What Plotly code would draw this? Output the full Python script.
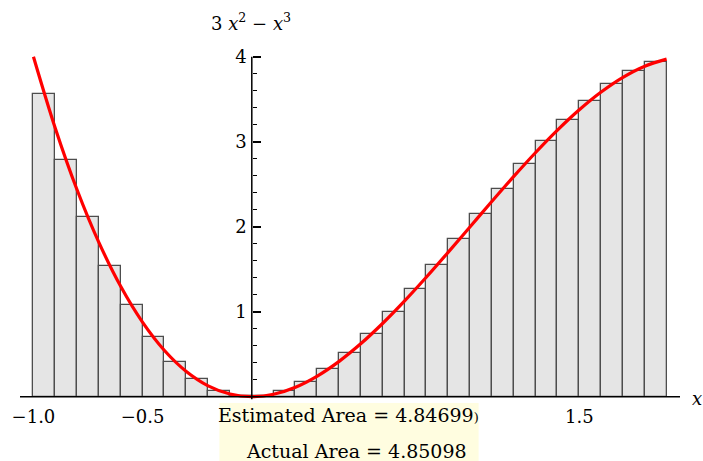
import plotly.graph_objects as go

# Riemann (midpoint) bars
bar_mid = [-0.95, -0.85, -0.75, -0.65, -0.55, -0.45, -0.35, -0.25, -0.15, -0.05,
           0.05, 0.15, 0.25, 0.35, 0.45, 0.55, 0.65, 0.75, 0.85, 0.95,
           1.05, 1.15, 1.25, 1.35, 1.45, 1.55, 1.65, 1.75, 1.85]
bar_height = [3.565, 2.782, 2.109, 1.542, 1.074, 0.699, 0.410, 0.203, 0.071, 0.008,
              0.007, 0.064, 0.172, 0.325, 0.516, 0.741, 0.993, 1.266, 1.553, 1.850,
              2.150, 2.447, 2.734, 3.007, 3.259, 3.484, 3.675, 3.828, 3.936]
bar_width = 0.1

# Curve 3x^2 - x^3 samples
curve_x = [-1.0, -0.9, -0.8, -0.7, -0.6, -0.5, -0.4, -0.3, -0.2, -0.1, 0.0,
           0.1, 0.2, 0.3, 0.4, 0.5, 0.6, 0.7, 0.8, 0.9, 1.0,
           1.1, 1.2, 1.3, 1.4, 1.5, 1.6, 1.7, 1.8, 1.9]
curve_y = [4.0, 3.159, 2.432, 1.813, 1.296, 0.875, 0.544, 0.297, 0.128, 0.031, 0.0,
           0.029, 0.112, 0.243, 0.416, 0.625, 0.864, 1.127, 1.408, 1.701, 2.0,
           2.299, 2.592, 2.873, 3.136, 3.375, 3.584, 3.757, 3.888, 3.971]

x_tickvals = [-1.0, -0.5, 1.5]
x_ticktext = ["\u22121.0", "\u22120.5", "1.5"]
y_tickvals = [1, 2, 3, 4]
y_ticktext = ["1", "2", "3", "4"]

estimated_area = "4.84699"
actual_area = "4.85098"

W, H = 703, 461
L, R, T, B = 18, 680, 52, 400     # plot area in pixels
x0_px, x_scale = 250.5, 219.0     # pixel of x=0, pixels per unit
y0_px, y_scale = 396.7, 85.0

xmin = (L - x0_px) / x_scale
xmax = (R - x0_px) / x_scale
ymin = (y0_px - B) / y_scale
ymax = (y0_px - T) / y_scale

def px(xp):
    return (xp - L) / (R - L)

def py(yp):
    return (B - yp) / (B - T)

FONT = "DejaVu Serif"

fig = go.Figure()
fig.add_trace(go.Bar(
    x=bar_mid, y=bar_height, width=bar_width,
    marker=dict(color="#e5e5e5", line=dict(color="#4d4d4d", width=1.3)),
    hoverinfo="skip", showlegend=False))
fig.add_trace(go.Scatter(
    x=curve_x, y=curve_y, mode="lines", line=dict(color="#ff0000", width=3.2, shape="spline"),
    hoverinfo="skip", showlegend=False))

fig.update_layout(
    width=W, height=H,
    margin=dict(l=L, r=W - R, t=T, b=H - B, pad=0),
    paper_bgcolor="white", plot_bgcolor="white",
    font=dict(family=FONT, size=18, color="black"),
    xaxis=dict(range=[xmin, xmax], showgrid=False, zeroline=False, showline=False,
               anchor="free", position=(0 - ymin) / (ymax - ymin),
               tickvals=x_tickvals, ticktext=x_ticktext, ticks="",
               ticklabelstandoff=7, tickfont=dict(family=FONT, size=18)),
    yaxis=dict(range=[ymin, ymax], showgrid=False, zeroline=False, showline=False,
               anchor="free", position=(0 - xmin) / (xmax - xmin),
               tickvals=y_tickvals, ticktext=y_ticktext, ticks="inside",
               ticklen=8, tickwidth=1.5, tickcolor="black",
               ticklabelstandoff=5,
               minor=dict(dtick=0.2, tick0=0, ticks="inside", ticklen=4, tickwidth=1.2,
                          tickcolor="black"),
               tickfont=dict(family=FONT, size=18)),
    bargap=0,
)

# axes lines
fig.add_shape(type="line", xref="x", yref="y", x0=xmin, x1=xmax, y0=0, y1=0,
              line=dict(color="black", width=1.5), layer="above")
fig.add_shape(type="line", xref="x", yref="y", x0=0, x1=0, y0=-0.03, y1=4,
              line=dict(color="black", width=1.5), layer="above")

# yellow box behind the area labels
fig.add_shape(type="rect", xref="paper", yref="paper",
              x0=px(218), x1=px(478), y0=py(403), y1=py(470),
              fillcolor="#fffde0", line=dict(width=0), layer="above")

fig.add_annotation(xref="paper", yref="paper", x=px(347), y=py(415),
                   text="Estimated Area = " + estimated_area + "<span style='font-size:13px'>)</span>",
                   showarrow=False, font=dict(family=FONT, size=19, color="black"),
                   xanchor="center", yanchor="middle")
fig.add_annotation(xref="paper", yref="paper", x=px(356), y=py(451),
                   text="Actual Area = " + actual_area,
                   showarrow=False, font=dict(family=FONT, size=19, color="black"),
                   xanchor="center", yanchor="middle")

fig.add_annotation(xref="paper", yref="paper", x=px(250), y=py(22),
                   text="3 <i>x</i><sup>2</sup> \u2212 <i>x</i><sup>3</sup>",
                   showarrow=False, font=dict(family=FONT, size=18, color="black"),
                   xanchor="center", yanchor="middle")
fig.add_annotation(xref="paper", yref="paper", x=px(690), y=py(398),
                   text="<i>x</i>", showarrow=False,
                   font=dict(family=FONT, size=18, color="black"),
                   xanchor="left", yanchor="middle")

fig.write_html("out.html", config={"displayModeBar": False},
               post_script="document.body.style.margin='0';document.body.style.overflow='hidden';")
